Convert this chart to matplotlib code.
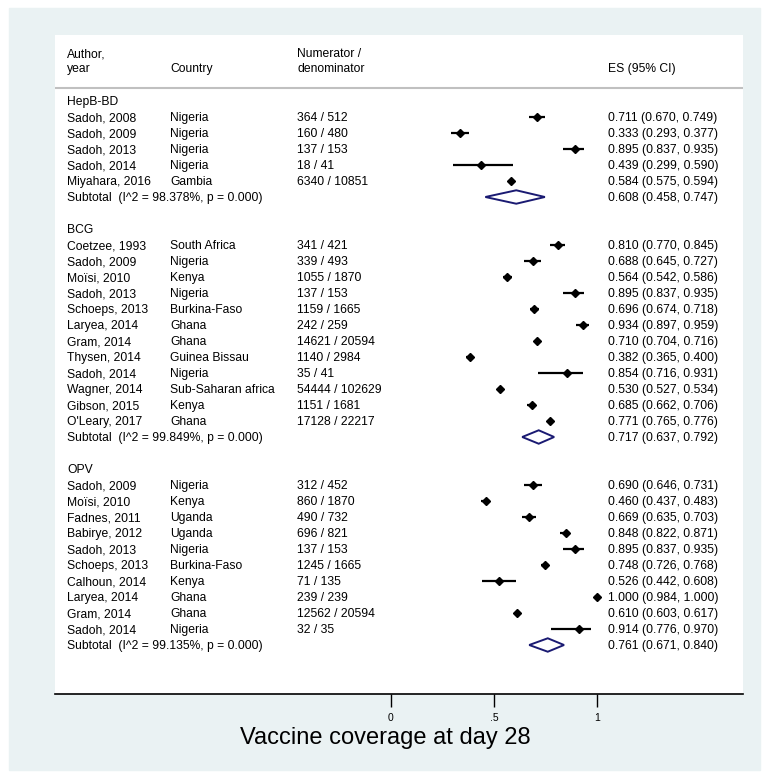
import matplotlib.pyplot as plt
from matplotlib.patches import Rectangle, Polygon

plt.rcParams['font.family'] = ['Liberation Sans', 'DejaVu Sans']

# ---- data ----
groups = ['HepB-BD', 'BCG', 'OPV']

hepb_author = ['Sadoh, 2008', 'Sadoh, 2009', 'Sadoh, 2013', 'Sadoh, 2014', 'Miyahara, 2016']
hepb_country = ['Nigeria', 'Nigeria', 'Nigeria', 'Nigeria', 'Gambia']
hepb_num = [364, 160, 137, 18, 6340]
hepb_den = [512, 480, 153, 41, 10851]
hepb_es = [0.711, 0.333, 0.895, 0.439, 0.584]
hepb_lo = [0.670, 0.293, 0.837, 0.299, 0.575]
hepb_hi = [0.749, 0.377, 0.935, 0.590, 0.594]

bcg_author = ['Coetzee, 1993', 'Sadoh, 2009', 'Moïsi, 2010', 'Sadoh, 2013', 'Schoeps, 2013',
              'Laryea, 2014', 'Gram, 2014', 'Thysen, 2014', 'Sadoh, 2014', 'Wagner, 2014',
              'Gibson, 2015', "O'Leary, 2017"]
bcg_country = ['South Africa', 'Nigeria', 'Kenya', 'Nigeria', 'Burkina-Faso', 'Ghana', 'Ghana',
               'Guinea Bissau', 'Nigeria', 'Sub-Saharan africa', 'Kenya', 'Ghana']
bcg_num = [341, 339, 1055, 137, 1159, 242, 14621, 1140, 35, 54444, 1151, 17128]
bcg_den = [421, 493, 1870, 153, 1665, 259, 20594, 2984, 41, 102629, 1681, 22217]
bcg_es = [0.810, 0.688, 0.564, 0.895, 0.696, 0.934, 0.710, 0.382, 0.854, 0.530, 0.685, 0.771]
bcg_lo = [0.770, 0.645, 0.542, 0.837, 0.674, 0.897, 0.704, 0.365, 0.716, 0.527, 0.662, 0.765]
bcg_hi = [0.845, 0.727, 0.586, 0.935, 0.718, 0.959, 0.716, 0.400, 0.931, 0.534, 0.706, 0.776]

opv_author = ['Sadoh, 2009', 'Moïsi, 2010', 'Fadnes, 2011', 'Babirye, 2012', 'Sadoh, 2013',
              'Schoeps, 2013', 'Calhoun, 2014', 'Laryea, 2014', 'Gram, 2014', 'Sadoh, 2014']
opv_country = ['Nigeria', 'Kenya', 'Uganda', 'Uganda', 'Nigeria', 'Burkina-Faso', 'Kenya',
               'Ghana', 'Ghana', 'Nigeria']
opv_num = [312, 860, 490, 696, 137, 1245, 71, 239, 12562, 32]
opv_den = [452, 1870, 732, 821, 153, 1665, 135, 239, 20594, 35]
opv_es = [0.690, 0.460, 0.669, 0.848, 0.895, 0.748, 0.526, 1.000, 0.610, 0.914]
opv_lo = [0.646, 0.437, 0.635, 0.822, 0.837, 0.726, 0.442, 0.984, 0.603, 0.776]
opv_hi = [0.731, 0.483, 0.703, 0.871, 0.935, 0.768, 0.608, 1.000, 0.617, 0.970]

sub_i2 = [98.378, 99.849, 99.135]
sub_es = [0.608, 0.717, 0.761]
sub_lo = [0.458, 0.637, 0.671]
sub_hi = [0.747, 0.792, 0.840]

# ---- layout (pixels) ----
W, H = 769, 779
def fx(px): return px / W
def fy(py): return 1 - py / H

fig = plt.figure(figsize=(W / 100, H / 100), dpi=100, facecolor='white')
fig.patches.append(Rectangle((fx(9), fy(770)), fx(760) - fx(9), fy(8) - fy(770),
                             transform=fig.transFigure, color='#eaf2f3', zorder=-10))

ax_l, ax_r, ax_t, ax_b = 55, 743, 35, 694
ax = fig.add_axes([fx(ax_l), fy(ax_b), fx(ax_r) - fx(ax_l), fy(ax_t) - fy(ax_b)])
ax.set_facecolor('white')

x0px, x1px = 391, 597   # pixel x of 0 and 1
row0, rowh = 101, 16    # pixel y of first row, row height
def dx(px): return (px - x0px) / (x1px - x0px)
def dr(py): return (py - row0) / rowh

ax.set_xlim(dx(ax_l), dx(ax_r))
ax.set_ylim(dr(ax_b), dr(ax_t))

col_author, col_country, col_num, col_es = dx(67), dx(170), dx(297), dx(608)
fs = 8.7
bl = 0.28  # baseline offset below row centre, in rows

def txt(x, y, s):
    ax.text(x, y + bl, s, fontsize=fs, va='baseline')

# header
txt(col_author, dr(53), 'Author,')
txt(col_author, dr(68), 'year')
txt(col_country, dr(68), 'Country')
txt(col_num, dr(53), 'Numerator /')
txt(col_num, dr(68), 'denominator')
txt(col_es, dr(68), 'ES (95% CI)')
ax.axhline(dr(88), color='#c0c0c0', lw=1.5)

data = [
    (hepb_author, hepb_country, hepb_num, hepb_den, hepb_es, hepb_lo, hepb_hi),
    (bcg_author, bcg_country, bcg_num, bcg_den, bcg_es, bcg_lo, bcg_hi),
    (opv_author, opv_country, opv_num, opv_den, opv_es, opv_lo, opv_hi),
]

r = 0
for g, (au, co, nu, de, es, lo, hi) in enumerate(data):
    txt(col_author, r, groups[g])
    r += 1
    for i in range(len(au)):
        txt(col_author, r, au[i])
        txt(col_country, r, co[i])
        txt(col_num, r, f'{nu[i]} / {de[i]}')
        txt(col_es, r, f'{es[i]:.3f} ({lo[i]:.3f}, {hi[i]:.3f})')
        ax.plot([lo[i], hi[i]], [r, r], color='black', lw=1.6, solid_capstyle='butt')
        ax.plot(es[i], r, marker='D', color='black', ms=4.2)
        r += 1
    txt(col_author, r, f'Subtotal  (I^2 = {sub_i2[g]:.3f}%, p = 0.000)')
    txt(col_es, r, f'{sub_es[g]:.3f} ({sub_lo[g]:.3f}, {sub_hi[g]:.3f})')
    ax.add_patch(Polygon([[sub_lo[g], r], [sub_es[g], r - 0.42], [sub_hi[g], r],
                          [sub_es[g], r + 0.42]], closed=True, fill=False,
                         edgecolor='#1a1a72', lw=1.4))
    r += 2

for s in ['top', 'left', 'right']:
    ax.spines[s].set_visible(False)
ax.spines['bottom'].set_linewidth(1.2)
ax.set_yticks([])
ax.set_xticks([0, 0.5, 1])
ax.set_xticklabels(['0', '.5', '1'], fontsize=7.5)
ax.tick_params(axis='x', length=9, width=1, pad=5)

fig.text(fx(385), fy(738), 'Vaccine coverage at day 28', fontsize=17,
         ha='center', va='center')

fig.savefig('out.png', dpi=100, facecolor=fig.get_facecolor())
